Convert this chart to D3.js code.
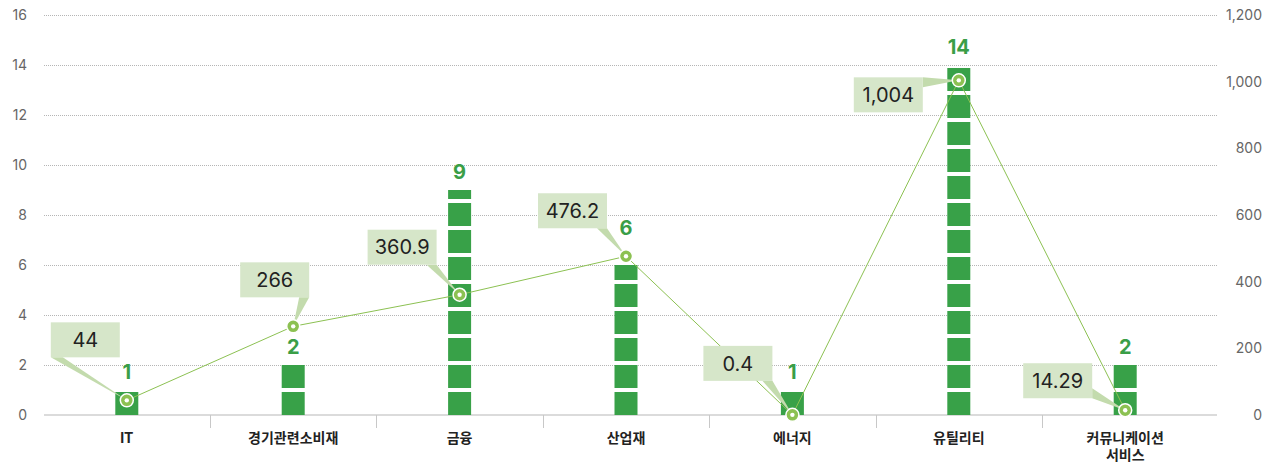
<!DOCTYPE html>
<html>
<head>
<meta charset="utf-8">
<script src="https://cdn.jsdelivr.net/npm/d3@7"></script>
<style>
  body { margin: 0; background: #fff; }
  svg text { font-family: "Inter", "Noto Sans CJK KR", sans-serif; }
</style>
</head>
<body>
<svg id="chart" width="1276" height="464"></svg>
<script>
// data
var categories = ["IT", "경기관련소비재", "금융", "산업재", "에너지", "유틸리티", "커뮤니케이션 서비스"];
var counts = [1, 2, 9, 6, 1, 14, 2];
var lineValues = [44, 266, 360.9, 476.2, 0.4, 1004, 14.29];
var leftTicks = [0, 2, 4, 6, 8, 10, 12, 14, 16];
var rightTicks = [0, 200, 400, 600, 800, 1000, 1200];

// callout placement (box offset from point, where the pointer leaves the box)
var calloutLayout = [
  { dx: -76, dy: -78, side: "bl" },
  { dx: -53, dy: -64, side: "br" },
  { dx: -92, dy: -65, side: "br" },
  { dx: -88, dy: -63, side: "br" },
  { dx: -89, dy: -69, side: "br" },
  { dx: -105, dy: -3, side: "rt" },
  { dx: -102, dy: -47, side: "rb" }
];

var svg = d3.select("#chart"),
    plotTop = 15, plotBottom = 415, plotLeft = 44, plotRight = 1217;

var x = d3.scaleBand().domain(categories).range([43.6, 1208.4]);
var yL = d3.scaleLinear().domain([0, 16]).range([plotBottom, plotTop]);
var yR = d3.scaleLinear().domain([0, 1200]).range([plotBottom, plotTop]);

var green = "#38a148", light = "#8cc152";

// segmented bar fill
var defs = svg.append("defs");
var pat = defs.append("pattern")
    .attr("id", "seg")
    .attr("patternUnits", "userSpaceOnUse")
    .attr("x", 0).attr("y", plotBottom - 27)
    .attr("width", 10).attr("height", 27);
pat.append("rect").attr("x", 0).attr("y", 4).attr("width", 10).attr("height", 23).attr("fill", green);

// grid
svg.append("g").selectAll("line")
  .data(leftTicks.slice(1))
  .join("line")
    .attr("x1", plotLeft).attr("x2", plotRight)
    .attr("y1", function(d) { return yL(d) + 0.5; })
    .attr("y2", function(d) { return yL(d) + 0.5; })
    .attr("stroke", "#b5b5b5")
    .attr("stroke-dasharray", "1,1");

svg.append("line")
    .attr("x1", plotLeft).attr("x2", plotRight)
    .attr("y1", plotBottom).attr("y2", plotBottom)
    .attr("stroke", "#cfcfcf").attr("stroke-width", 1.5);

// category separators
svg.append("g").selectAll("line")
  .data(categories.slice(1))
  .join("line")
    .attr("x1", function(d) { return Math.round(x(d)) + 0.5; })
    .attr("x2", function(d) { return Math.round(x(d)) + 0.5; })
    .attr("y1", plotBottom).attr("y2", plotBottom + 13)
    .attr("stroke", "#c8c8c8");

// left axis labels
svg.append("g").selectAll("text")
  .data(leftTicks)
  .join("text")
    .attr("x", 27).attr("y", function(d) { return yL(d); })
    .attr("dy", "0.35em")
    .attr("text-anchor", "end")
    .attr("font-size", 14).attr("fill", "#666")
    .text(function(d) { return d; });

// right axis labels
svg.append("g").selectAll("text")
  .data(rightTicks)
  .join("text")
    .attr("x", 1262).attr("y", function(d) { return yR(d); })
    .attr("dy", "0.35em")
    .attr("text-anchor", "end")
    .attr("font-size", 14).attr("fill", "#666")
    .text(function(d) { return d3.format(",")(d); });

// x labels
svg.append("g").selectAll("text")
  .data(categories)
  .join("text")
    .attr("x", function(d) { return x(d) + x.bandwidth() / 2; })
    .attr("y", 443)
    .attr("text-anchor", "middle")
    .attr("font-size", 14).attr("font-weight", "bold").attr("fill", "#222")
    .each(function(d) {
      var parts = d.split(" ");
      var t = d3.select(this);
      parts.forEach(function(p, i) {
        t.append("tspan")
          .attr("x", x(d) + x.bandwidth() / 2)
          .attr("dy", i === 0 ? 0 : 17)
          .text(p);
      });
    });

var cx = function(i) { return x(categories[i]) + x.bandwidth() / 2; };

// bars
svg.append("g").selectAll("rect")
  .data(counts)
  .join("rect")
    .attr("x", function(d, i) { return cx(i) - 11.5; })
    .attr("y", function(d) { return yL(d); })
    .attr("width", 23)
    .attr("height", function(d) { return plotBottom - yL(d); })
    .attr("fill", "url(#seg)");

// bar value, pushed above the marker when they would collide
svg.append("g").selectAll("text")
  .data(counts)
  .join("text")
    .attr("x", function(d, i) { return cx(i); })
    .attr("y", function(d, i) {
      var base = yL(d) - 11, my = yR(lineValues[i]);
      if (my > base - 20 && my < base + 10) base = my - 21;
      return base;
    })
    .attr("text-anchor", "middle")
    .attr("font-size", 20).attr("font-weight", "bold").attr("fill", "#3a9e47")
    .text(function(d) { return d; });

// line
var line = d3.line()
    .x(function(d, i) { return cx(i); })
    .y(function(d) { return yR(d); });

svg.append("path")
    .datum(lineValues)
    .attr("d", line)
    .attr("fill", "none")
    .attr("stroke", light)
    .attr("stroke-width", 1);

// callouts
var bw = 69, bh = 35;
var call = svg.append("g").selectAll("g")
  .data(lineValues)
  .join("g");

call.append("path")
    .attr("fill", "#c3dbad")
    .attr("d", function(d, i) {
      var px = cx(i), py = yR(d), c = calloutLayout[i];
      var bx = px + c.dx, by = py + c.dy, a, b;
      if (c.side === "bl") { a = [bx, by + bh]; b = [bx + 12, by + bh]; }
      else if (c.side === "br") { a = [bx + bw - 10, by + bh]; b = [bx + bw, by + bh]; }
      else if (c.side === "rt") { a = [bx + bw, by]; b = [bx + bw, by + 10]; }
      else { a = [bx + bw, by + bh - 10]; b = [bx + bw, by + bh]; }
      return "M" + a + "L" + b + "L" + [px, py] + "Z";
    });

call.append("rect")
    .attr("x", function(d, i) { return cx(i) + calloutLayout[i].dx; })
    .attr("y", function(d, i) { return yR(d) + calloutLayout[i].dy; })
    .attr("width", bw).attr("height", bh)
    .attr("fill", "#d6e6c9");

call.append("text")
    .attr("x", function(d, i) { return cx(i) + calloutLayout[i].dx + bw / 2; })
    .attr("y", function(d, i) { return yR(d) + calloutLayout[i].dy + bh / 2; })
    .attr("dy", "0.36em")
    .attr("text-anchor", "middle")
    .attr("font-size", 20).attr("fill", "#222")
    .text(function(d) { return d3.format(",")(d); });

// markers
var mk = svg.append("g").selectAll("g")
  .data(lineValues)
  .join("g")
    .attr("transform", function(d, i) { return "translate(" + cx(i) + "," + yR(d) + ")"; });

mk.append("circle").attr("r", 6.5).attr("fill", light).attr("stroke", "#fff").attr("stroke-width", 1.5);
mk.append("circle").attr("r", 2.2).attr("fill", "#fff");
</script>
</body>
</html>
